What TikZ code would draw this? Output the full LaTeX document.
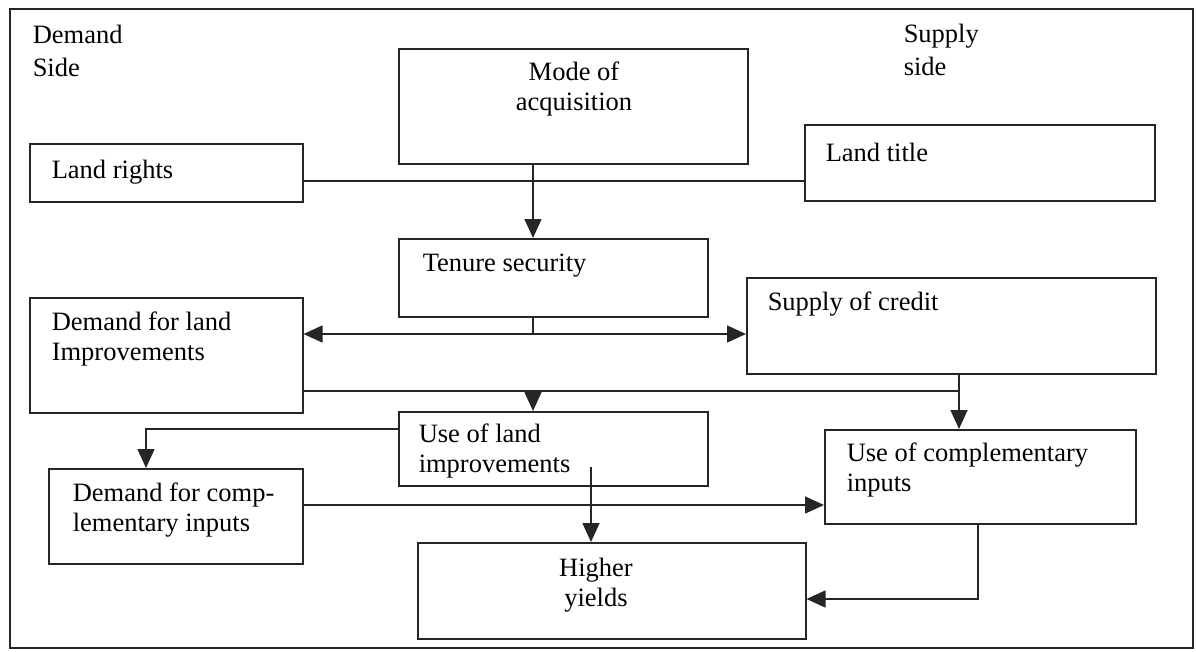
\documentclass[tikz,border=0pt]{standalone}
\usepackage{fontspec}
\setmainfont{Liberation Serif}
\usetikzlibrary{arrows.meta,positioning,calc}

\begin{document}
\begin{tikzpicture}[x=1pt, y=-1pt, line width=1.5pt,
    box/.style={draw=black!85, inner sep=0pt, anchor=north west},
    txt/.style={inner sep=0pt, anchor=west, align=left, font=\fontsize{26.5}{30}\selectfont},
    arr/.style={draw=black!85, -{Triangle[length=19pt,width=17pt]}},
    link/.style={draw=black!85}]
    \useasboundingbox (0,0) rectangle (1196,651);
    % Frame
    \draw[black!85] (10,9) rectangle (1193,648);
    \node[txt] (demandside) at (32,51) {Demand\\[3pt]Side};
    \node[txt] (supplyside) at (903,50) {Supply\\[3pt]side};
    % Boxes
    \node[box, minimum width=349, minimum height=115] (mode) at (398,48) {};
    \node[box, minimum width=273, minimum height=58] (rights) at (29,143) {};
    \node[box, minimum width=350, minimum height=76] (title) at (804,124) {};
    \node[box, minimum width=309, minimum height=78] (tenure) at (398,238) {};
    \node[box, minimum width=273, minimum height=115] (dland) at (29,297) {};
    \node[box, minimum width=409, minimum height=96] (credit) at (746,277) {};
    \node[box, minimum width=309, minimum height=74] (useland) at (398,411) {};
    \node[box, minimum width=254, minimum height=95] (dcomp) at (48,468) {};
    \node[box, minimum width=311, minimum height=94] (usecomp) at (824,429) {};
    \node[box, minimum width=388, minimum height=96] (higher) at (417,542) {};
    % Box texts
    \node[txt, anchor=center, align=center] (modeT) at ([shift={(176,41)}]mode.north west) {Mode of\\acquisition};
    \node[txt] (rightsT) at ([shift={(22,29)}]rights.north west) {Land rights};
    \node[txt] (titleT) at ([shift={(21,28)}]title.north west) {Land title};
    \node[txt] (tenureT) at ([shift={(24,28)}]tenure.north west) {Tenure security};
    \node[txt] (dlandT) at ([shift={(22,42)}]dland.north west) {Demand for land\\Improvements};
    \node[txt] (creditT) at ([shift={(21,27)}]credit.north west) {Supply of credit};
    \node[txt] (uselandT) at ([shift={(20,40)}]useland.north west) {Use of land\\improvements};
    \node[txt] (dcompT) at ([shift={(24,42)}]dcomp.north west) {Demand for comp-\\lementary inputs};
    \node[txt] (usecompT) at ([shift={(22,41)}]usecomp.north west) {Use of complementary\\inputs};
    \node[txt, anchor=center, align=center] (higherT) at ([shift={(179,43)}]higher.north west) {Higher\\yields};
    % Connectors
    \coordinate (c1) at (533,181);
    \draw[link] (rights.east |- c1) -- (title.west |- c1);
    \draw[arr] (mode.south -| c1) -- (tenure.north -| c1);
    \coordinate (c2) at (533,334);
    \draw[link] (tenure.south -| c2) -- (c2);
    \draw[arr] (c2) -- (dland.east |- c2);
    \draw[arr] (c2) -- (credit.west |- c2);
    \coordinate (c3) at (959,391);
    \draw[link] (dland.east |- c3) -- (c3);
    \draw[arr] (credit.south -| c3) -- (usecomp.north -| c3);
    \coordinate (c4) at (533,391);
    \draw[arr] (c4) -- (useland.north -| c4);
    \coordinate (c5) at (146,429);
    \draw[arr] (useland.west |- c5) -| (dcomp.north -| c5);
    \coordinate (c6) at (591,467);
    \draw[arr] (c6) -- (higher.north -| c6);
    \coordinate (c7) at (0,505);
    \draw[arr] (dcomp.east |- c7) -- (usecomp.west |- c7);
    \coordinate (c8) at (978,599);
    \draw[arr] (usecomp.south -| c8) |- (higher.east |- c8);
\end{tikzpicture}
\end{document}
